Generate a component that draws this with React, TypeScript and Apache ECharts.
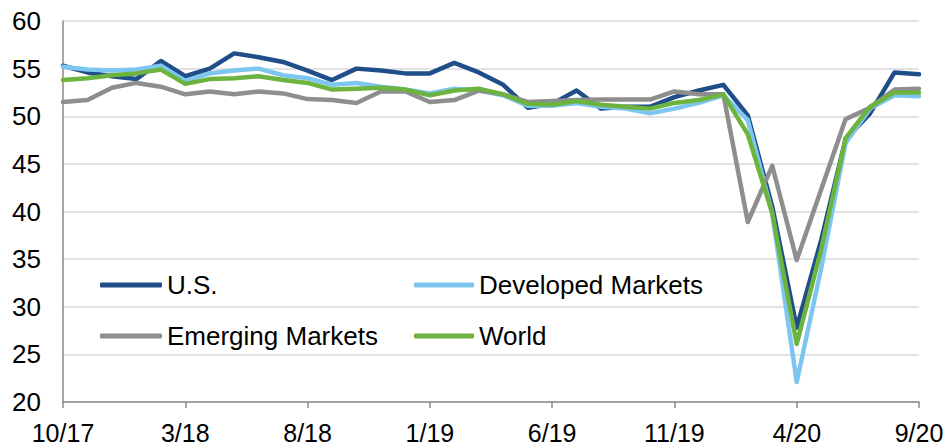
import React, { useEffect, useRef } from "react";
import * as echarts from "echarts";

const months = [
  "10/17", "11/17", "12/17", "1/18", "2/18", "3/18", "4/18", "5/18", "6/18", "7/18",
  "8/18", "9/18", "10/18", "11/18", "12/18", "1/19", "2/19", "3/19", "4/19", "5/19",
  "6/19", "7/19", "8/19", "9/19", "10/19", "11/19", "12/19", "1/20", "2/20", "3/20",
  "4/20", "5/20", "6/20", "7/20", "8/20", "9/20",
];

const usValues = [
  55.3, 54.6, 54.2, 53.9, 55.8, 54.2, 55.0, 56.6, 56.2, 55.7,
  54.8, 53.8, 55.0, 54.8, 54.5, 54.5, 55.6, 54.6, 53.3, 50.9,
  51.3, 52.7, 50.8, 51.0, 51.0, 52.0, 52.7, 53.3, 50.1, 40.5,
  27.8, 37.0, 47.6, 50.3, 54.6, 54.4,
];

const developedValues = [
  55.2, 54.9, 54.8, 54.9, 55.3, 53.7, 54.5, 54.8, 55.0, 54.3,
  54.0, 53.3, 53.5, 53.1, 52.8, 52.4, 52.9, 52.7, 52.2, 51.1,
  51.1, 51.4, 51.0, 50.8, 50.3, 50.8, 51.4, 52.2, 49.6, 39.8,
  22.1, 34.0, 47.2, 50.8, 52.2, 52.1,
];

const emergingValues = [
  51.5, 51.7, 53.0, 53.5, 53.1, 52.3, 52.6, 52.3, 52.6, 52.4,
  51.8, 51.7, 51.4, 52.6, 52.6, 51.5, 51.7, 52.7, 52.3, 51.5,
  51.6, 51.7, 51.75, 51.75, 51.75, 52.6, 52.3, 52.3, 38.9, 44.8,
  34.9, 42.3, 49.7, 50.9, 52.8, 52.9,
];

const worldValues = [
  53.8, 54.0, 54.3, 54.5, 54.9, 53.4, 53.9, 54.0, 54.2, 53.8,
  53.5, 52.8, 52.9, 53.0, 52.8, 52.2, 52.7, 52.9, 52.3, 51.3,
  51.2, 51.6, 51.2, 51.0, 50.8, 51.4, 51.7, 52.3, 48.1, 39.8,
  26.1, 36.0, 47.7, 51.0, 52.5, 52.5,
];

const seriesNames = ["U.S.", "Developed Markets", "Emerging Markets", "World"];
const seriesColors = ["#1F4E89", "#7DC6EF", "#8E8E8E", "#6DB33F"];

const FONT = "'Liberation Sans', Arial, sans-serif";

export default function App() {
  const ref = useRef<HTMLDivElement>(null);

  useEffect(() => {
    if (!ref.current) return;
    const chart = echarts.init(ref.current, undefined, { renderer: "svg" });
    const data = [usValues, developedValues, emergingValues, worldValues];
    const legendText = {
      fontFamily: FONT,
      fontSize: 26,
      color: "#000",
      lineHeight: 30,
    };
    const legendBase = {
      orient: "vertical",
      top: 265,
      icon: "roundRect",
      itemWidth: 62,
      itemHeight: 5,
      itemGap: 21,
      textStyle: legendText,
    };
    chart.setOption({
      animation: false,
      backgroundColor: "#fff",
      grid: { left: 63, right: 30, top: 21, bottom: 45, containLabel: false },
      legend: [
        { ...legendBase, data: ["U.S.", "Emerging Markets"], left: 95 },
        { ...legendBase, data: ["Developed Markets", "World"], left: 409, itemWidth: 60 },
      ],
      xAxis: {
        type: "category",
        data: months,
        boundaryGap: false,
        axisLine: { show: true, lineStyle: { color: "#8A8A8A", width: 1.5 } },
        axisTick: {
          show: true,
          interval: 4,
          length: 6,
          lineStyle: { color: "#8A8A8A", width: 1.5 },
        },
        axisLabel: {
          interval: 4,
          margin: 18,
          fontFamily: FONT,
          fontSize: 25,
          color: "#000",
        },
        splitLine: { show: false },
      },
      yAxis: {
        type: "value",
        min: 20,
        max: 60,
        interval: 5,
        axisLine: { show: true, lineStyle: { color: "#8A8A8A", width: 1.5 } },
        axisTick: { show: false },
        axisLabel: {
          margin: 22,
          fontFamily: FONT,
          fontSize: 26,
          color: "#000",
        },
        splitLine: { show: true, lineStyle: { color: "#D9D9D9", width: 1.5 } },
      },
      series: seriesNames.map((name, i) => ({
        name,
        type: "line",
        data: data[i],
        symbol: "none",
        showSymbol: false,
        color: seriesColors[i],
        lineStyle: { color: seriesColors[i], width: 4.5, join: "round", cap: "round" },
        itemStyle: { color: seriesColors[i] },
        z: 2 + i,
      })),
    });
    return () => chart.dispose();
  }, []);

  return (
    <div
      ref={ref}
      style={{ position: "fixed", left: 0, top: 0, width: 949, height: 447 }}
    />
  );
}
